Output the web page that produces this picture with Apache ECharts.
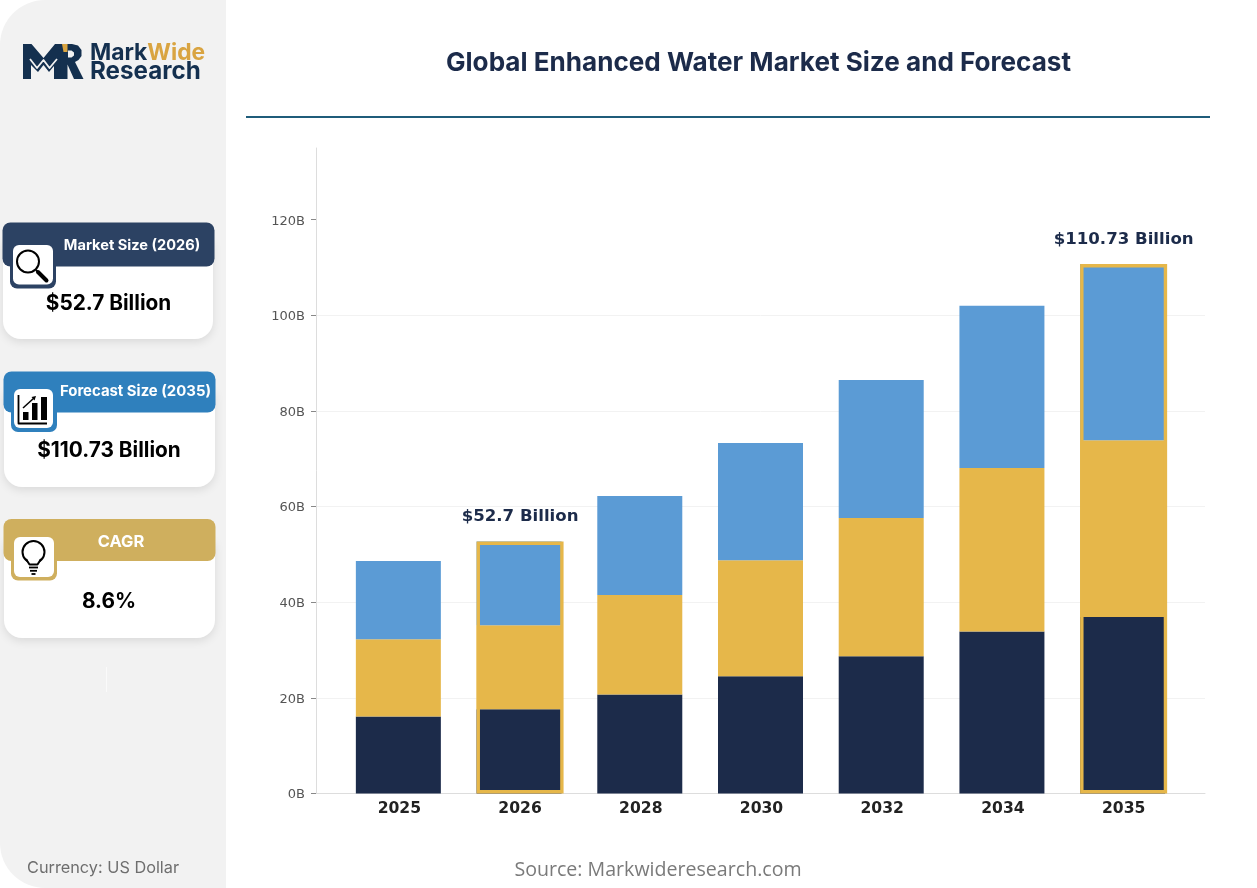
<!DOCTYPE html>
<html>
<head>
<meta charset="utf-8">
<style>html,body{margin:0;padding:0;background:#fff}#c{width:1257px;height:888px}</style>
<script src="https://cdn.jsdelivr.net/npm/echarts@6/dist/echarts.min.js"></script>
</head>
<body>
<div id="c"></div>
<script>
const categories = ['2025','2026','2028','2030','2032','2034','2035'];
const navyValues = [16.1,17.6,20.7,24.5,28.7,33.9,36.9];
const goldValues = [16.15,17.6,20.8,24.3,28.9,34.2,37.0];
const blueValues = [16.35,17.5,20.7,24.5,28.9,33.9,36.83];
const highlightValues = [null,52.7,null,null,null,null,110.73];
const highlightLabels = ['', '$52.7 Billion','','','','','$110.73 Billion'];
const yTicks = [0,20,40,60,80,100,120];
const cards = [
  {title:'Market Size (2026)', value:'$52.7 Billion', color:'#2C4263', cardX:3, cardY:240, cardW:210, cardH:99, hx:2.5, hy:222.5, hw:212, hh:44, tx:132, ty:246, ts:14.6, vx:108.5, vy:304},
  {title:'Forecast Size (2035)', value:'$110.73 Billion', color:'#2F80BD', cardX:4, cardY:390, cardW:211, cardH:97, hx:3.5, hy:371.5, hw:212, hh:41, tx:135.5, ty:392, ts:14.9, vx:109, vy:451},
  {title:'CAGR', value:'8.6%', color:'#CFAF5E', cardX:4, cardY:540, cardW:211, cardH:98, hx:3.5, hy:519, hw:212, hh:42, tx:121, ty:542, ts:16.5, vx:109, vy:602}
];

const BODY = 'Inter, "Noto Sans", sans-serif';
const g = [];
const rect = (x,y,width,height,fill,r,extra) => g.push({type:'rect',shape:{x,y,width,height,r:r||0},style:Object.assign({fill},extra||{}),silent:true});
const text = (x,y,t,font,fill,align) => g.push({type:'text',x,y,style:{text:t,font,fill,textAlign:align||'center',textVerticalAlign:'middle'},silent:true});
const poly = (pts,fill) => g.push({type:'polygon',shape:{points:pts},style:{fill},silent:true});
const line = (pts,stroke,lineWidth,cap) => g.push({type:'polyline',shape:{points:pts},style:{stroke,lineWidth,fill:'none',lineCap:cap||'butt',lineJoin:'round'},silent:true});
const circle = (cx,cy,r,stroke,lineWidth,fill) => g.push({type:'circle',shape:{cx,cy,r},style:{stroke,lineWidth,fill:fill||'none'},silent:true});

// sidebar
rect(0,0,226,888,'#F2F2F2',[45,0,0,45]);

// logo
const logoNavy = '#14304F';
poly([[23,44],[31.5,44],[43.5,58],[55,44],[62,44],[62,79],[54,79],[54,66],[49,72],[43.5,65],[38,72],[31,65],[31,79],[23,79]],logoNavy);
line([[30,59],[37,68],[43.5,60],[49.5,68],[57,59]],'#F2F2F2',1.8);
poly([[61,44],[72,44],[78,45.5],[81.5,50],[81.5,56],[78.5,60],[75,62],[83.5,79],[74,79],[67.5,64.5],[67.5,79],[60,79]],logoNavy);
poly([[68,50.5],[71.5,50.5],[74,52.5],[74,55.5],[71.5,57.5],[68,57.5]],'#F2F2F2');
poly([[62,44],[67.5,44],[67.5,52],[63.5,52]],'#D9A441');
g.push({type:'text',x:90,y:53,style:{text:'{a|Mark}{b|Wide}',textVerticalAlign:'middle',textAlign:'left',rich:{a:{fill:'#14304F',font:'700 22.8px '+BODY},b:{fill:'#D9A441',font:'700 22.8px '+BODY}}},silent:true});
text(90,71.5,'Research','700 24.2px '+BODY,'#14304F','left');

// cards
cards.forEach(c=>{
  rect(c.cardX,c.cardY,c.cardW,c.cardH,'#FFFFFF',[0,0,18,18],{shadowBlur:10,shadowColor:'rgba(0,0,0,0.10)',shadowOffsetY:3});
  rect(c.hx,c.hy,c.hw,c.hh,c.color,8);
  text(c.tx,c.ty,c.title,'700 '+c.ts+'px '+BODY,'#FFFFFF');
  text(c.vx,c.vy,c.value,'700 20.8px '+BODY,'#000000');
});
// icon boxes
rect(10,255,46,33.5,cards[0].color,7);
rect(13,245,40,39.5,'#FFFFFF',6);
circle(28,261.5,11,'#000',2);
line([[36,270],[38,272]],'#000',2);
line([[38,272],[46.5,280.5]],'#000',4,'round');

rect(11,400,46,32,cards[1].color,7);
rect(14,389,39,39,'#FFFFFF',6);
line([[18.5,395],[18.5,423.5],[47,423.5]],'#000',1.8);
rect(23,412,5.5,8,'#000');
rect(32,403,5.5,17,'#000');
rect(41,397,6,23,'#000');
line([[23,408],[34,398]],'#000',1.5);
poly([[36,396],[31.5,397],[34.5,400.5]],'#000');

rect(11,548,46,32.5,cards[2].color,7);
rect(14,537,40,40,'#FFFFFF',6);
circle(33.5,552,11,'#000',2);
g.push({type:'rect',shape:{x:28,y:559,width:11,height:6},style:{fill:'#fff'},silent:true});
line([[26,559],[29.5,564.5],[37.5,564.5],[41,559]],'#000',2);
line([[29,567.5],[38,567.5]],'#000',1.8);
line([[30,570.8],[37,570.8]],'#000',1.8);
line([[31.5,574],[35.5,574]],'#000',1.8);

// faint divider in the sidebar
line([[106.5,667],[106.5,692]],'#FAFAFA',1);

// rule under the title
rect(246,116,964,2,'#1F5C7A');

// footers
text(27,868,'Currency: US Dollar','400 16.3px '+BODY,'#6E6E6E','left');
text(658,870.5,'Source: Markwideresearch.com','400 19.6px "Open Sans", '+BODY,'#7A7A7A');

const option = {
  animation:false,
  backgroundColor:'#FFFFFF',
  title:{
    text:'Global Enhanced Water Market Size and Forecast',
    left:753.5, top:58, textAlign:'center', textVerticalAlign:'middle',
    textStyle:{color:'#1C2B4A',fontFamily:BODY,fontWeight:700,fontSize:26.1}
  },
  graphic:{elements:g},
  grid:[
    {left:316,top:148,width:889,height:645.5,containLabel:false},
    {left:339,top:148,width:845,height:645.5,containLabel:false}
  ],
  xAxis:[
    {gridIndex:0,type:'category',data:[''],
      axisLine:{show:true,lineStyle:{color:'#DDDDDD',width:1}},axisTick:{show:false},axisLabel:{show:false},splitLine:{show:false}},
    {gridIndex:1,type:'category',data:categories,
      axisLine:{show:false},axisTick:{show:false},
      axisLabel:{color:'#222222',fontFamily:'"DejaVu Sans"',fontWeight:700,fontSize:15.6,margin:7},splitLine:{show:false}}
  ],
  yAxis:[
    {gridIndex:0,type:'value',min:0,max:135,interval:20,
      axisLine:{show:true,lineStyle:{color:'#DDDDDD',width:1}},
      axisTick:{show:true,length:5,lineStyle:{color:'#888888'},customValues:yTicks},
      axisLabel:{color:'#555555',fontFamily:'"DejaVu Sans"',fontSize:13,margin:11,verticalAlign:'top',lineHeight:3,customValues:yTicks,formatter:v=>v+'B'},
      splitLine:{show:true,showMaxLine:false,lineStyle:{color:'#F2F2F2',width:1}}},
    {gridIndex:1,type:'value',min:0,max:135,show:false,splitLine:{show:false}}
  ],
  series:[
    {name:'Navy',type:'bar',xAxisIndex:1,yAxisIndex:1,stack:'total',data:navyValues,barWidth:85,barGap:'-100%',itemStyle:{color:'#1C2B4A'}},
    {name:'Gold',type:'bar',xAxisIndex:1,yAxisIndex:1,stack:'total',data:goldValues,itemStyle:{color:'#E6B74A'}},
    {name:'Blue',type:'bar',xAxisIndex:1,yAxisIndex:1,stack:'total',data:blueValues,itemStyle:{color:'#5B9BD5'}},
    {name:'Highlight',type:'bar',xAxisIndex:1,yAxisIndex:1,data:highlightValues,barWidth:87,barGap:'-100%',z:5,
      itemStyle:{color:'rgba(0,0,0,0)',borderColor:'#E6B74A',borderWidth:3.4},
      label:{show:true,position:'top',distance:16,color:'#1C2B4A',fontFamily:'"DejaVu Sans"',fontWeight:700,fontSize:16.6,
        formatter:p=>highlightLabels[p.dataIndex]}}
  ]
};
const chart = echarts.init(document.getElementById('c'),null,{renderer:'canvas',width:1257,height:888});
chart.setOption(option);
</script>
</body>
</html>
